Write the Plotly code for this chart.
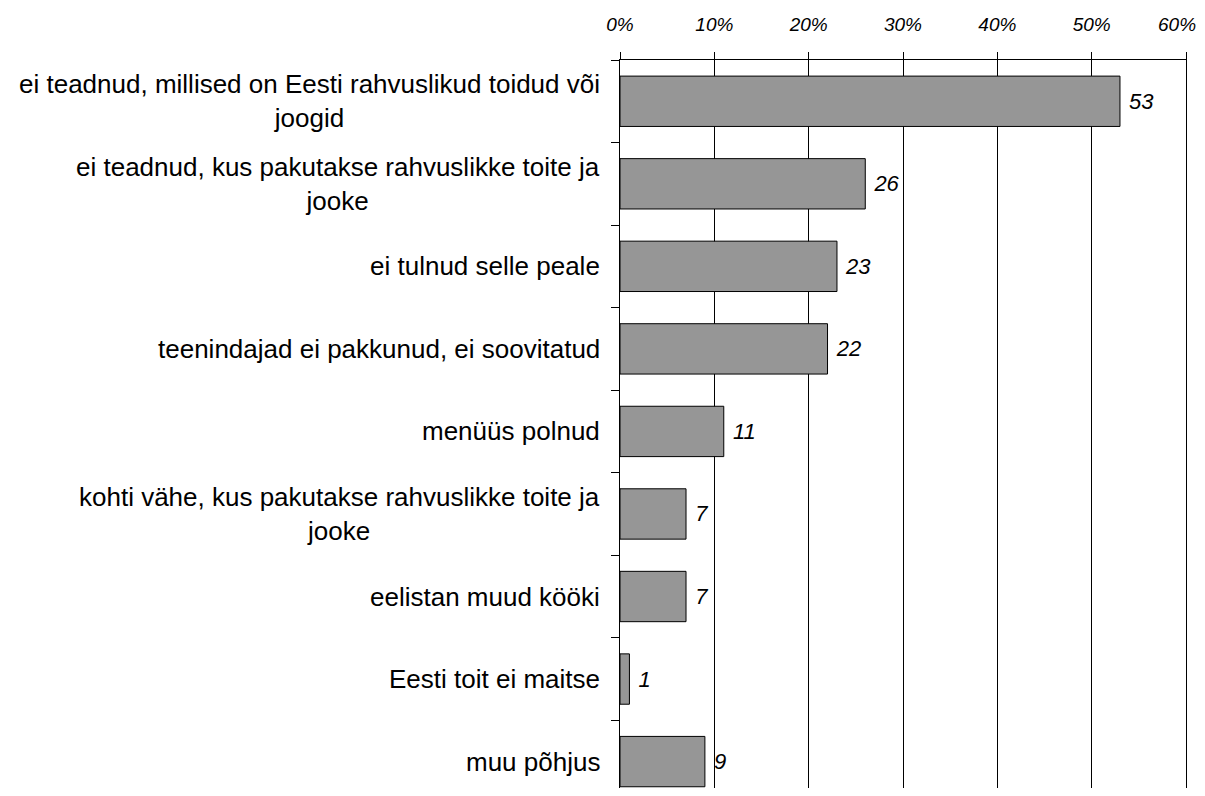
import plotly.graph_objects as go

categories = [
    "ei teadnud, millised on Eesti rahvuslikud toidud või<br>joogid",
    "ei teadnud, kus pakutakse rahvuslikke toite ja<br>jooke",
    "ei tulnud selle peale",
    "teenindajad ei pakkunud, ei soovitatud",
    "menüüs polnud",
    "kohti vähe, kus pakutakse rahvuslikke toite ja<br>jooke",
    "eelistan muud kööki",
    "Eesti toit ei maitse",
    "muu põhjus",
]
values = [53, 26, 23, 22, 11, 7, 7, 1, 9]
x_ticks = [0, 10, 20, 30, 40, 50, 60]
ids = [f"c{i}" for i in range(len(categories))]

FONT = "Arial, Liberation Sans, sans-serif"
TICKFONT = dict(family=FONT, size=19, color="#000000", style="italic")

fig = go.Figure()
fig.add_trace(go.Bar(
    y=ids, x=values, orientation="h",
    marker=dict(color="#969696", line=dict(color="#000000", width=1)),
    width=0.61,
    text=[str(v) for v in values],
    texttemplate=" %{text}",
    textposition="outside",
    textfont=dict(family=FONT, size=22, color="#000000", style="italic"),
    cliponaxis=False,
    hoverinfo="skip",
))

annotations = []
for cid, lab in zip(ids, categories):
    annotations.append(dict(
        xref="paper", x=0, xshift=-18, xanchor="right",
        yref="y", y=cid, yanchor="middle",
        text=lab,
        showarrow=False, align="center",
        font=dict(family=FONT, size=26, color="#000000"),
    ))

# last tick label drawn as annotation, nudged left so it is not clipped at the page edge
ticktext = [f"{v}%" for v in x_ticks]
annotations.append(dict(
    xref="x", x=x_ticks[-1], xanchor="center", xshift=-9,
    yref="paper", y=1, yanchor="middle", yshift=36,
    text=ticktext[-1], showarrow=False, font=TICKFONT,
))
ticktext[-1] = ""

fig.update_layout(
    width=1205, height=780,
    margin=dict(l=612, r=27, t=52, b=0),
    paper_bgcolor="white", plot_bgcolor="white",
    showlegend=False,
    annotations=annotations,
    xaxis=dict(
        side="top", range=[0, 60], tickvals=x_ticks,
        ticktext=ticktext,
        showgrid=True, gridcolor="#000000", gridwidth=1,
        zeroline=False, showline=True, linecolor="#000000", linewidth=1,
        ticks="outside", ticklen=7, tickcolor="#000000",
        tickfont=TICKFONT,
        ticklabelstandoff=13,
    ),
    yaxis=dict(
        type="category", categoryorder="array", categoryarray=ids,
        range=[8.32, -0.5],
        showticklabels=False, showgrid=False, zeroline=False,
        showline=True, linecolor="#000000", linewidth=1, mirror=True,
        ticks="outside", tickson="boundaries", ticklen=8, tickcolor="#000000",
    ),
)

fig.write_html("out.html")
